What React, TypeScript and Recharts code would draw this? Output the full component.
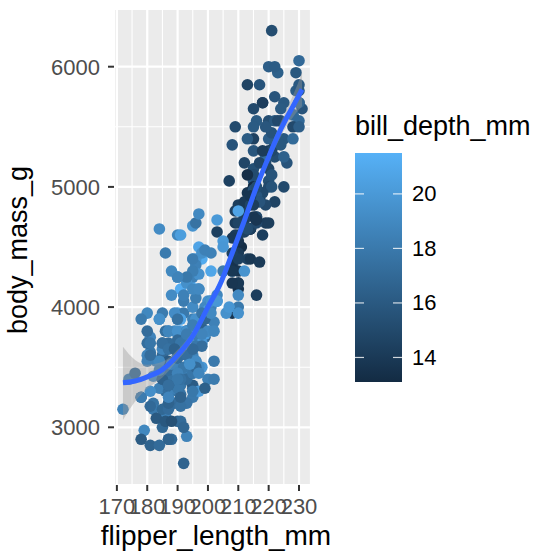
import {
  ComposedChart,
  Scatter,
  Line,
  Area,
  XAxis,
  YAxis,
  CartesianGrid,
  ReferenceLine,
} from "recharts";

// Adelie
const adelieFlipper = [
  181, 186, 195, 193, 190, 181, 195, 193, 190, 186, 180, 182, 191, 198, 185, 195, 197, 184, 194,
  174, 180, 189, 185, 180, 187, 183, 187, 172, 180,
  178, 178, 188, 184, 195, 196, 190, 180, 181, 184, 182, 195, 186, 196, 185, 190, 182, 179, 190, 191,
  186, 188, 190, 200, 187, 191, 186, 193, 181, 194, 185, 195, 185, 192, 184, 192, 195, 188,
  190, 198, 190, 190, 196, 197, 190, 195, 191, 184, 187, 195, 189, 196, 187, 193,
  191, 194, 190, 189, 189, 190, 202, 205, 185, 186, 187, 208, 190, 196, 178, 192,
  192, 203, 183, 190, 193, 184, 199, 190, 181, 197, 198, 191, 193, 197, 191, 196,
  188, 199, 189, 189, 187, 198, 176, 202, 186, 199, 191, 195, 191, 210, 190, 197,
  193, 199, 187, 190, 191, 200, 185, 193, 193, 187, 188, 190, 192, 185, 190, 184, 195, 193, 187, 201,
];
const adelieMass = [
  3750, 3800, 3250, 3450, 3650, 3625, 4675, 3475, 4250, 3300, 3700, 3200, 3800, 4400, 3700, 3450, 4500, 3325, 4200,
  3400, 3600, 3800, 3950, 3800, 3800, 3550, 3200, 3150, 3950,
  3250, 3900, 3300, 3900, 3325, 4150, 3950, 3550, 3300, 4650, 3150, 3900, 3100, 4400, 3000, 4600, 3425, 2975, 3450, 4150,
  3500, 4300, 3450, 4050, 2900, 3700, 3550, 3800, 2850, 3750, 3150, 4400, 3600, 4050, 2850, 3950, 3350, 4100,
  3050, 4450, 3600, 3900, 3550, 4150, 3700, 4250, 3700, 3900, 3550, 4000, 3200, 4700, 3800, 4200,
  3350, 3550, 3800, 3500, 3950, 3600, 3550, 4300, 3400, 4450, 3300, 4300, 3700, 4350, 2900, 4100,
  3725, 4725, 3075, 4250, 2925, 3550, 3750, 3900, 3175, 4775, 3825, 4600, 3200, 4275, 3900, 4075,
  2900, 3775, 3350, 3325, 3150, 3500, 3450, 3875, 3050, 4000, 3275, 4300, 3050, 4000, 3325, 3500,
  3500, 4475, 3425, 3900, 3175, 3975, 3400, 4250, 3400, 3475, 3050, 3725, 3000, 3650, 4250, 3475, 3450, 3750, 3700, 4000,
];
const adelieDepth = [
  18.7, 17.4, 18, 19.3, 20.6, 17.8, 19.6, 18.1, 20.2, 17.1, 17.3, 17.6, 21.2, 21.1, 17.8, 19, 20.7, 18.4, 21.5,
  18.3, 18.7, 19.2, 18.1, 17.2, 18.9, 18.6, 17.9, 18.6, 18.9,
  16.7, 18.1, 17.8, 18.9, 17, 21.1, 20, 18.5, 19.3, 19.1, 18, 18.4, 18.5, 19.7, 16.9, 18.8, 19, 18.9, 17.9, 21.2,
  17.7, 18.9, 17.9, 19.5, 18.1, 18.6, 17.5, 18.8, 16.6, 19.1, 16.9, 21.1, 17, 18.2, 17.1, 18, 16.2, 19.1,
  16.6, 19.4, 19, 18.4, 17.2, 18.9, 17.5, 18.5, 16.8, 19.4, 16.1, 19.1, 17.2, 17.6, 18.8, 19.4,
  17.8, 20.3, 19.5, 18.6, 19.2, 18.8, 18, 18.1, 17.1, 18.1, 17.3, 18.9, 18.6, 18.5, 16.1, 18.5,
  17.9, 20, 16, 20, 18.6, 18.9, 17.2, 20, 17, 19, 16.5, 20.3, 17.7, 19.5, 20.7, 18.3,
  17, 20.5, 17, 18.6, 17.2, 19.8, 17, 18.5, 15.9, 19, 17.6, 18.3, 17.1, 18, 17.9, 19.2,
  18.5, 18.5, 17.6, 17.5, 17.5, 20.1, 16.5, 17.9, 17.1, 17.2, 15.5, 17, 16.8, 18.7, 18.6, 18.4, 17.8, 18.1, 17.1, 18.5,
];

// Gentoo
const gentooFlipper = [
  211, 230, 210, 218, 215, 210, 211, 219, 209, 215, 214, 216, 214, 213, 210, 217, 210, 221, 209, 222,
  218, 215, 213, 215, 215, 215, 216, 215, 210, 220, 222, 209, 207, 230, 220, 220, 213, 219, 208, 208,
  208, 225, 210, 216, 222, 217, 210, 225, 213, 215, 210, 220, 210, 225, 217, 220, 208, 220, 208, 224,
  208, 221, 214, 231, 219, 230, 214, 229, 220, 223, 216, 221, 221, 217, 216, 230, 209, 220, 215, 223,
  212, 221, 212, 224, 212, 228, 218, 218, 212, 230, 218, 228, 212, 224, 214, 226, 216, 222, 203, 225,
  219, 228, 215, 228, 216, 215, 210, 219, 208, 209, 216, 229, 213, 230, 217, 230, 217, 222, 214,
  215, 222, 212, 213,
];
const gentooMass = [
  4500, 5700, 4450, 5700, 5400, 4550, 4800, 5200, 4400, 5150, 4650, 5550, 4650, 5850, 4200, 5850, 4150, 6300, 4800, 5350,
  5700, 5000, 4400, 5050, 5000, 5100, 4100, 5650, 4600, 5550, 5250, 4700, 5050, 6050, 5150, 5400, 4950, 5250, 4350, 5350,
  3950, 5700, 4300, 4750, 5550, 4900, 4200, 5400, 5100, 5300, 4850, 5300, 4400, 5000, 4900, 5050, 4300, 5000, 4450, 5550,
  4200, 5300, 4400, 5650, 4700, 5700, 4650, 5800, 4700, 5550, 4750, 5000, 5100, 5200, 4700, 5800, 4600, 6000, 4750, 5950,
  4625, 5450, 4725, 5350, 4750, 5600, 4600, 5300, 4875, 5550, 4950, 5400, 4750, 5650, 4850, 5200, 4925, 4875, 4625, 5250,
  4850, 5600, 4975, 5500, 4725, 5500, 4700, 5500, 4575, 5500, 5000, 5950, 4650, 5500, 4375, 5850, 4875, 6000, 4925,
  4850, 5750, 5200, 5400,
];
const gentooDepth = [
  13.2, 16.3, 14.1, 15.2, 14.5, 13.5, 14.6, 15.3, 13.4, 15.4, 13.7, 16.1, 13.7, 14.6, 14.6, 15.7, 13.5, 15.2, 14.5, 15.1,
  14.3, 14.5, 14.5, 15.8, 13.1, 15.1, 14.3, 15, 14.3, 15.3, 15.3, 14.2, 14.5, 17, 14.8, 16.3, 13.7, 17.3, 13.6, 15.7,
  13.7, 16, 13.7, 15, 15.9, 13.9, 13.9, 15.9, 13.3, 15.8, 14.2, 14.1, 14.4, 15, 14.4, 15.4, 13.9, 15, 14.5, 15.3,
  13.8, 14.9, 13.9, 15.7, 14.2, 16.8, 14.4, 16.2, 14.2, 15, 15, 15.6, 15.6, 14.8, 15, 16, 14.2, 16.3, 13.8, 16.4,
  14.5, 15.6, 14.6, 15.9, 13.8, 17.3, 14.4, 14.2, 14, 17, 15, 17.1, 14.5, 16.1, 14.7, 15.7, 15.8, 14.6, 14.4, 16.5,
  15, 17, 15.5, 15, 13.8, 16.1, 14.7, 15.8, 14, 15.1, 15.2, 15.9, 15.2, 16.3, 14.1, 16, 15.7, 16.2, 13.7,
  14.3, 15.7, 14.8, 16.1,
];

// Chinstrap
const chinstrapFlipper = [
  192, 196, 193, 188, 197, 198, 178, 197, 195, 198, 193, 194, 185, 201, 190, 201, 197, 181, 190, 195,
  181, 191, 187, 193, 195, 197, 200, 200, 191, 205, 187, 201, 187, 203, 195, 199, 195, 210, 192, 205,
  210, 187, 196, 196, 196, 201, 190, 212, 187, 198, 199, 201, 193, 203, 187, 197, 191, 203, 202, 194,
  206, 189, 195, 207, 202, 193, 210, 198,
];
const chinstrapMass = [
  3500, 3900, 3650, 3525, 3725, 3950, 3250, 3750, 4150, 3700, 3800, 3775, 3700, 4050, 3575, 4050, 3300, 3700, 3450, 4400,
  3600, 3400, 2900, 3800, 3300, 4150, 3400, 3800, 3700, 4550, 3200, 4300, 3350, 4100, 3600, 3900, 3850, 4800, 2700, 4500,
  3950, 3650, 3550, 3500, 3675, 4450, 3400, 4300, 3250, 3675, 3325, 3950, 3600, 4050, 3350, 3450, 3250, 4050, 3800, 3525,
  3950, 3650, 3650, 4000, 3400, 3775, 4100, 3775,
];
const chinstrapDepth = [
  17.9, 19.5, 19.2, 18.7, 19.8, 17.8, 18.2, 18.2, 18.9, 19.9, 17.8, 20.3, 17.3, 18.1, 17.1, 19.6, 20, 17.8, 18.6, 18.2,
  17.3, 17.5, 16.6, 19.4, 17.9, 19, 18.4, 19, 17.8, 20, 16.6, 20.8, 16.7, 18.8, 18.6, 16.8, 18.3, 20.7, 16.6, 19.9,
  19.5, 17.5, 19.1, 17, 17.9, 18.5, 17.9, 19.6, 18.7, 17.3, 16.4, 19, 17.3, 19.7, 17.3, 18.8, 16.6, 19.9, 18.8, 19.4,
  19.5, 16.5, 17, 19.8, 18.1, 18.2, 19, 18.7,
];

// smoothed trend with its confidence band
const smoothX = [172, 176, 180, 185, 190, 195, 200, 204, 208, 212, 216, 220, 224, 228, 231];
const smoothY = [3370, 3385, 3420, 3480, 3600, 3760, 4000, 4190, 4450, 4720, 5000, 5250, 5480, 5670, 5810];
const smoothLo = [3060, 3215, 3320, 3415, 3555, 3720, 3960, 4150, 4410, 4680, 4960, 5205, 5420, 5580, 5670];
const smoothHi = [3670, 3560, 3520, 3545, 3645, 3800, 4040, 4230, 4490, 4760, 5040, 5295, 5540, 5760, 5950];

const xTicks = [170, 180, 190, 200, 210, 220, 230];
const xMinor = [175, 185, 195, 205, 215, 225];
const yTicks = [3000, 4000, 5000, 6000];
const yMinor = [3500, 4500, 5500];
const legendTicks = [14, 16, 18, 20];

const DEPTH_MIN = 13.1;
const DEPTH_MAX = 21.5;
const LOW = [0x13, 0x2b, 0x43];
const HIGH = [0x56, 0xb1, 0xf7];
const FONT = "'Liberation Sans', Arial, Helvetica, sans-serif";

const depthColor = (d: number) => {
  const t = (d - DEPTH_MIN) / (DEPTH_MAX - DEPTH_MIN);
  const c = LOW.map((lo, i) => Math.round(lo + (HIGH[i] - lo) * t));
  return `rgb(${c[0]},${c[1]},${c[2]})`;
};

const toRows = (f: number[], m: number[], d: number[]) =>
  f.map((x, i) => ({ x, y: m[i], depth: d[i] }));

const points = [
  ...toRows(adelieFlipper, adelieMass, adelieDepth),
  ...toRows(gentooFlipper, gentooMass, gentooDepth),
  ...toRows(chinstrapFlipper, chinstrapMass, chinstrapDepth),
];

const smoothRows = smoothX.map((x, i) => ({
  x,
  y: smoothY[i],
  band: [smoothLo[i], smoothHi[i]],
}));

const Dot = (props: any) => {
  if (props.cx == null || props.cy == null) return null;
  return <circle cx={props.cx} cy={props.cy} r={5.8} fill={depthColor(props.payload.depth)} />;
};

// colourbar geometry
const BAR_X = 355;
const BAR_W = 47;
const BAR_TOP = 153;
const BAR_BOTTOM = 382;
const barY = (d: number) =>
  BAR_BOTTOM - ((d - DEPTH_MIN) / (DEPTH_MAX - DEPTH_MIN)) * (BAR_BOTTOM - BAR_TOP);

export default function App() {
  return (
    <div style={{ position: "absolute", left: 0, top: 0, width: 547, height: 556, background: "#fff" }}>
      <ComposedChart
        width={547}
        height={556}
        margin={{ top: 9, right: 236, bottom: 0, left: 0 }}
      >
        <CartesianGrid fill="#EBEBEB" fillOpacity={1} stroke="#FFFFFF" strokeWidth={2.2} />
        {xMinor.map((v) => (
          <ReferenceLine key={`vx${v}`} x={v} stroke="#FFFFFF" strokeWidth={1.1} zIndex={-50} />
        ))}
        {yMinor.map((v) => (
          <ReferenceLine key={`hy${v}`} y={v} stroke="#FFFFFF" strokeWidth={1.1} zIndex={-50} />
        ))}
        <XAxis
          type="number"
          dataKey="x"
          domain={[169.05, 233.95]}
          ticks={xTicks}
          interval={0}
          allowDataOverflow
          height={71}
          axisLine={false}
          tickSize={6}
          tickMargin={7}
          tickLine={{ stroke: "#333333", strokeWidth: 2 }}
          tick={{ fill: "#4D4D4D", fontSize: 22, fontFamily: FONT }}
        />
        <YAxis
          type="number"
          dataKey="y"
          domain={[2520, 6480]}
          ticks={yTicks}
          interval={0}
          allowDataOverflow
          width={114}
          axisLine={false}
          tickSize={6}
          tickMargin={8}
          tickLine={{ stroke: "#333333", strokeWidth: 2 }}
          tick={{ fill: "#4D4D4D", fontSize: 22, fontFamily: FONT }}
        />
        <Scatter data={points} shape={Dot} isAnimationActive={false} zIndex={600} />
        <Area
          data={smoothRows}
          dataKey="band"
          type="monotone"
          stroke="none"
          fill="#999999"
          fillOpacity={0.4}
          isAnimationActive={false}
          zIndex={700}
        />
        <Line
          data={smoothRows}
          dataKey="y"
          type="monotone"
          stroke="#3366FF"
          strokeWidth={5}
          dot={false}
          activeDot={false}
          isAnimationActive={false}
          zIndex={800}
        />
      </ComposedChart>
      <svg
        width={547}
        height={556}
        style={{ position: "absolute", left: 0, top: 0, pointerEvents: "none" }}
        fontFamily={FONT}
      >
        <defs>
          <linearGradient id="depthGrad" x1="0" y1="1" x2="0" y2="0">
            <stop offset="0%" stopColor="#132B43" />
            <stop offset="100%" stopColor="#56B1F7" />
          </linearGradient>
        </defs>
        <text x={27} y={250} fontSize={27} fill="#000" textAnchor="middle" transform="rotate(-90 27 250)">
          body_mass_g
        </text>
        <text x={216} y={545} fontSize={28} fill="#000" textAnchor="middle">
          flipper_length_mm
        </text>
        <text x={355} y={135} fontSize={27} fill="#000">
          bill_depth_mm
        </text>
        <rect x={BAR_X} y={BAR_TOP} width={BAR_W} height={BAR_BOTTOM - BAR_TOP} fill="url(#depthGrad)" />
        {legendTicks.map((t) => (
          <g key={t}>
            <line x1={BAR_X} x2={BAR_X + 9} y1={barY(t)} y2={barY(t)} stroke="#FFFFFF" strokeOpacity={0.8} strokeWidth={1.2} />
            <line x1={BAR_X + BAR_W - 9} x2={BAR_X + BAR_W} y1={barY(t)} y2={barY(t)} stroke="#FFFFFF" strokeOpacity={0.8} strokeWidth={1.2} />
            <text x={412} y={barY(t)} fontSize={22} fill="#000" dominantBaseline="central">
              {t}
            </text>
          </g>
        ))}
      </svg>
    </div>
  );
}
